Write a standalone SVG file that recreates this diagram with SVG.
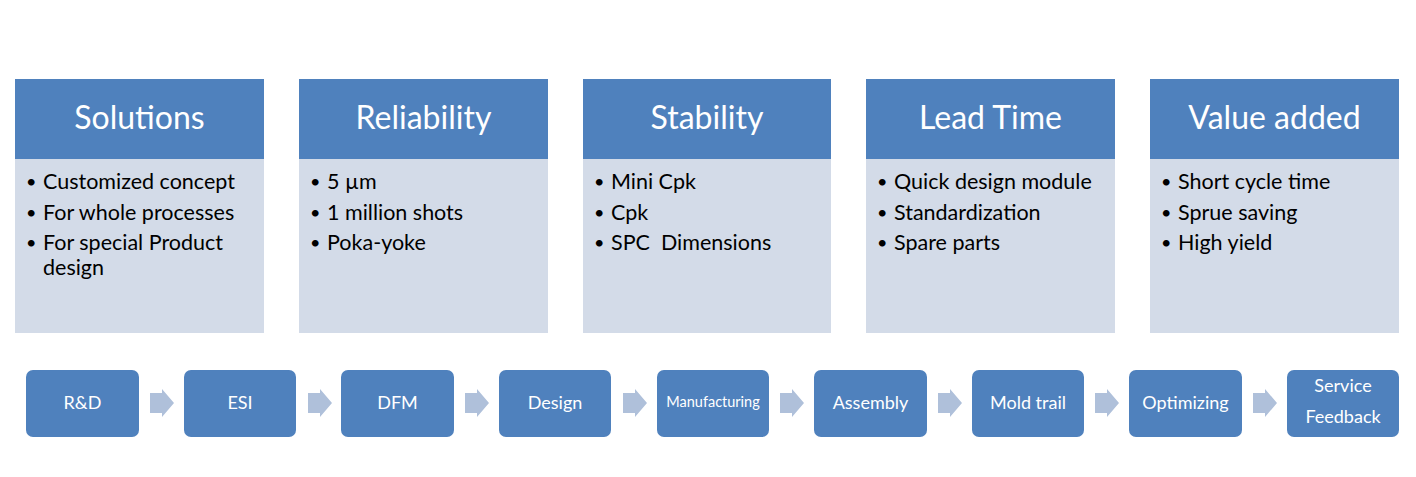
<svg xmlns="http://www.w3.org/2000/svg" width="1416" height="477" viewBox="0 0 1416 477">
<style>
.hd{fill:#4F81BD}
.bd{fill:#D3DBE8}
.ht{font-family:Lato,"Liberation Sans",sans-serif;font-size:32px;fill:#fff;text-anchor:middle}
.bt{font-family:Lato,"Liberation Sans",sans-serif;font-size:21.5px;fill:#000}
.bu{font-size:18px}
.bx{fill:#4F81BD}
.st{font-family:Lato,"Liberation Sans",sans-serif;font-size:18px;fill:#fff;text-anchor:middle}
.ar{fill:#AFC0DA}
</style>
<defs>
<path id="arr" d="M0,4 H12 V0 L24,14 L12,28 V24 H0 Z"/>
</defs>
<rect width="1416" height="477" fill="#fff"/>
<g id="card-solutions">
<rect class="hd" x="15" y="79" width="249" height="80"/>
<rect class="bd" x="15" y="159" width="249" height="174"/>
<text class="ht" x="139.5" y="129">Solutions</text>
<text class="bt"><tspan class="bu" x="26" y="188">•</tspan><tspan x="43" y="189">Customized concept</tspan><tspan class="bu" x="26" y="219">•</tspan><tspan x="43" y="220">For whole processes</tspan><tspan class="bu" x="26" y="249">•</tspan><tspan x="43" y="250">For special Product</tspan><tspan x="43" y="275">design</tspan></text>
</g>
<g id="card-reliability">
<rect class="hd" x="299" y="79" width="249" height="80"/>
<rect class="bd" x="299" y="159" width="249" height="174"/>
<text class="ht" x="423.5" y="129">Reliability</text>
<text class="bt"><tspan class="bu" x="310" y="188">•</tspan><tspan x="327" y="189">5 µm</tspan><tspan class="bu" x="310" y="219">•</tspan><tspan x="327" y="220">1 million shots</tspan><tspan class="bu" x="310" y="249">•</tspan><tspan x="327" y="250">Poka-yoke</tspan></text>
</g>
<g id="card-stability">
<rect class="hd" x="583" y="79" width="248" height="80"/>
<rect class="bd" x="583" y="159" width="248" height="174"/>
<text class="ht" x="707" y="129">Stability</text>
<text class="bt"><tspan class="bu" x="594" y="188">•</tspan><tspan x="611" y="189">Mini Cpk</tspan><tspan class="bu" x="594" y="219">•</tspan><tspan x="611" y="220">Cpk</tspan><tspan class="bu" x="594" y="249">•</tspan><tspan x="611" y="250" xml:space="preserve">SPC  Dimensions</tspan></text>
</g>
<g id="card-leadtime">
<rect class="hd" x="866" y="79" width="249" height="80"/>
<rect class="bd" x="866" y="159" width="249" height="174"/>
<text class="ht" x="990.5" y="129">Lead Time</text>
<text class="bt"><tspan class="bu" x="877" y="188">•</tspan><tspan x="894" y="189">Quick design module</tspan><tspan class="bu" x="877" y="219">•</tspan><tspan x="894" y="220">Standardization</tspan><tspan class="bu" x="877" y="249">•</tspan><tspan x="894" y="250">Spare parts</tspan></text>
</g>
<g id="card-value">
<rect class="hd" x="1150" y="79" width="249" height="80"/>
<rect class="bd" x="1150" y="159" width="249" height="174"/>
<text class="ht" x="1274.5" y="129">Value added</text>
<text class="bt"><tspan class="bu" x="1161" y="188">•</tspan><tspan x="1178" y="189">Short cycle time</tspan><tspan class="bu" x="1161" y="219">•</tspan><tspan x="1178" y="220">Sprue saving</tspan><tspan class="bu" x="1161" y="249">•</tspan><tspan x="1178" y="250">High yield</tspan></text>
</g>
<g id="connectors">
<use href="#arr" class="ar" x="150" y="389"/>
<use href="#arr" class="ar" x="308" y="389"/>
<use href="#arr" class="ar" x="465" y="389"/>
<use href="#arr" class="ar" x="623" y="389"/>
<use href="#arr" class="ar" x="780" y="389"/>
<use href="#arr" class="ar" x="938" y="389"/>
<use href="#arr" class="ar" x="1095" y="389"/>
<use href="#arr" class="ar" x="1253" y="389"/>
</g>
<g id="step-rd"><rect class="bx" x="26" y="370" width="113" height="67" rx="7"/><text class="st" x="82.5" y="409">R&amp;D</text></g>
<g id="step-esi"><rect class="bx" x="184" y="370" width="112" height="67" rx="7"/><text class="st" x="240" y="409">ESI</text></g>
<g id="step-dfm"><rect class="bx" x="341" y="370" width="113" height="67" rx="7"/><text class="st" x="397.5" y="409">DFM</text></g>
<g id="step-design"><rect class="bx" x="499" y="370" width="112" height="67" rx="7"/><text class="st" x="555" y="409">Design</text></g>
<g id="step-manufacturing"><rect class="bx" x="657" y="370" width="112" height="67" rx="7"/><text class="st" x="713" y="407" style="font-size:14.5px">Manufacturing</text></g>
<g id="step-assembly"><rect class="bx" x="814" y="370" width="113" height="67" rx="7"/><text class="st" x="870.5" y="409">Assembly</text></g>
<g id="step-mold"><rect class="bx" x="972" y="370" width="112" height="67" rx="7"/><text class="st" x="1028" y="409">Mold trail</text></g>
<g id="step-optimizing"><rect class="bx" x="1129" y="370" width="113" height="67" rx="7"/><text class="st" x="1185.5" y="409">Optimizing</text></g>
<g id="step-service"><rect class="bx" x="1287" y="370" width="112" height="67" rx="7"/><text class="st" x="1343" y="392">Service</text><text class="st" x="1343" y="423">Feedback</text></g>
</svg>
